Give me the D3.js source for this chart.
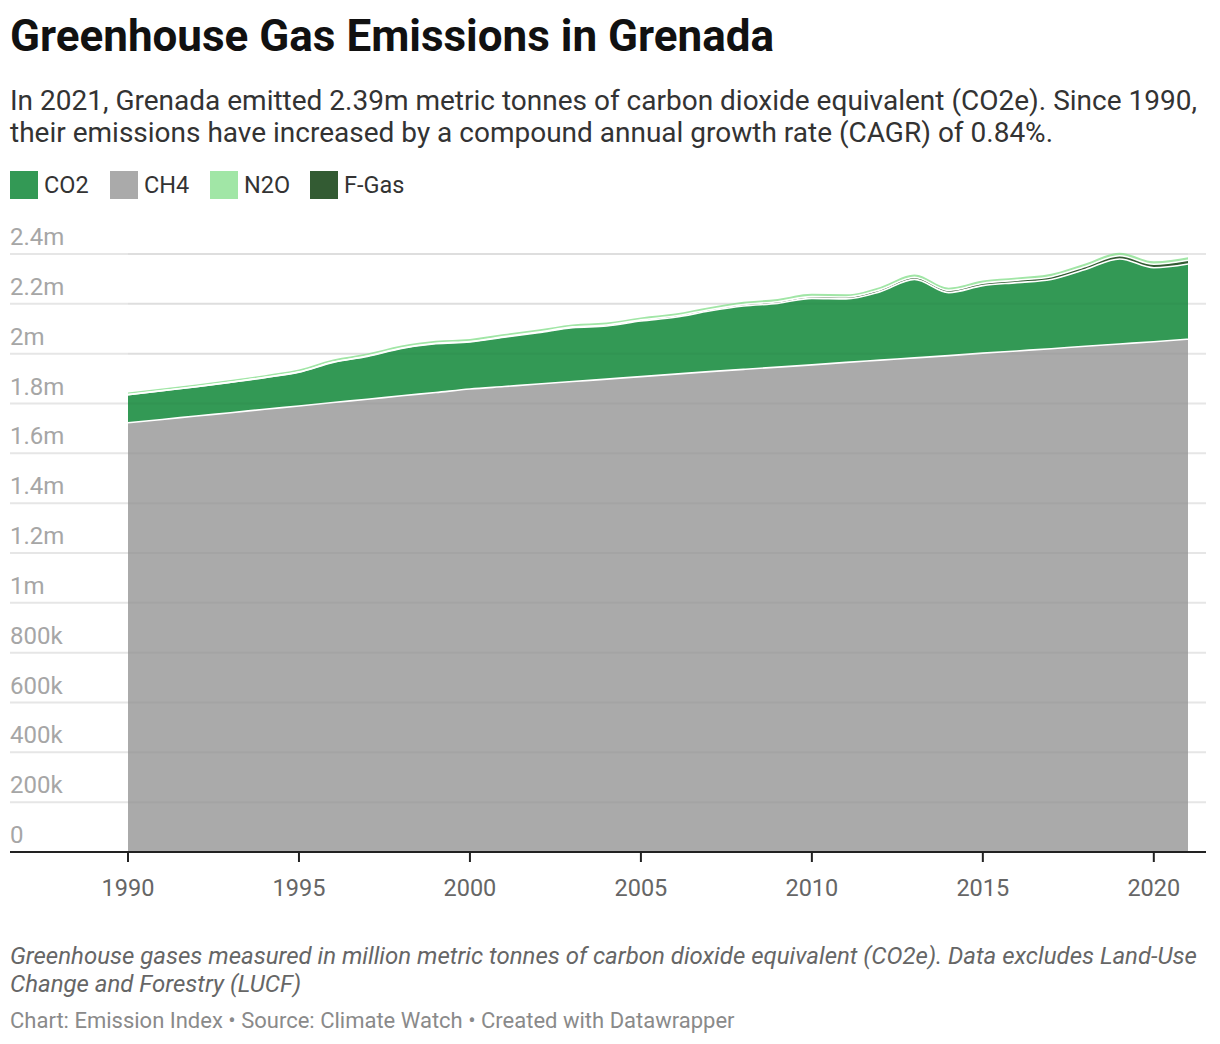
<!DOCTYPE html>
<html>
<head>
<meta charset="utf-8">
<script src="https://cdn.jsdelivr.net/npm/d3@7"></script>
<style>
  body { margin: 0; background: #fff; font-family: Roboto, "Noto Sans", sans-serif; }
  svg { display: block; }
</style>
</head>
<body>
<svg id="chart" width="1220" height="1044"></svg>
<script>
// years on the x axis
var years = d3.range(1990, 2022);

// emissions in million tonnes CO2e
var ch4 = [1.723, 1.736, 1.750, 1.763, 1.777, 1.790, 1.804, 1.817, 1.831, 1.844,
           1.858, 1.868, 1.878, 1.888, 1.898, 1.908, 1.918, 1.928, 1.937, 1.946,
           1.955, 1.965, 1.974, 1.983, 1.992, 2.002, 2.011, 2.020, 2.030, 2.039,
           2.048, 2.058];
var co2 = [0.112, 0.115, 0.117, 0.122, 0.127, 0.136, 0.161, 0.172, 0.190, 0.196,
           0.189, 0.198, 0.206, 0.216, 0.213, 0.223, 0.228, 0.243, 0.254, 0.256,
           0.267, 0.255, 0.275, 0.315, 0.253, 0.271, 0.274, 0.278, 0.308, 0.341,
           0.297, 0.302];
var fgas = [0.0005, 0.0005, 0.0006, 0.0007, 0.0008, 0.001, 0.0012, 0.0014, 0.0016, 0.0018,
            0.002, 0.0025, 0.003, 0.0035, 0.004, 0.0045, 0.005, 0.0055, 0.006, 0.0065,
            0.007, 0.0075, 0.008, 0.0085, 0.009, 0.0095, 0.010, 0.011, 0.012, 0.013,
            0.014, 0.015];
var n2o = [0.009, 0.009, 0.009, 0.009, 0.009, 0.009, 0.010, 0.010, 0.010, 0.010,
           0.010, 0.010, 0.010, 0.010, 0.010, 0.010, 0.010, 0.010, 0.011, 0.011,
           0.011, 0.011, 0.011, 0.011, 0.011, 0.011, 0.011, 0.012, 0.012, 0.012,
           0.012, 0.012];

var legendNames = ["CO2", "CH4", "N2O", "F-Gas"];
var stackOrder = ["CH4", "CO2", "F-Gas", "N2O"];   // bottom to top
var colors = { "CO2": "#339955", "CH4": "#aaaaaa", "N2O": "#a1e6a6", "F-Gas": "#335b33" };

var yTicks = [0, 0.2, 0.4, 0.6, 0.8, 1.0, 1.2, 1.4, 1.6, 1.8, 2.0, 2.2, 2.4];
var xTicks = [1990, 1995, 2000, 2005, 2010, 2015, 2020];

var table = years.map(function(yr, i) {
  return { year: yr, "CH4": ch4[i], "CO2": co2[i], "F-Gas": fgas[i], "N2O": n2o[i] };
});

var svg = d3.select("#chart");

// title and description
svg.append("text").attr("x", 10).attr("y", 51)
  .style("font-size", "44px").style("font-weight", 700).attr("fill", "#111")
  .text("Greenhouse Gas Emissions in Grenada");

var desc = [
  "In 2021, Grenada emitted 2.39m metric tonnes of carbon dioxide equivalent (CO2e). Since 1990,",
  "their emissions have increased by a compound annual growth rate (CAGR) of 0.84%."
];
svg.selectAll(".desc").data(desc).enter().append("text")
  .attr("x", 10).attr("y", function(d, i) { return 110 + i * 31.5; })
  .style("font-size", "28px").attr("fill", "#333")
  .text(function(d) { return d; });

// legend
var legend = svg.append("g");
legendNames.forEach(function(name, i) {
  var gx = 10 + i * 100;
  legend.append("rect").attr("x", gx).attr("y", 171).attr("width", 28).attr("height", 28)
    .attr("fill", colors[name]);
  legend.append("text").attr("x", gx + 34).attr("y", 193)
    .style("font-size", "23.5px").attr("fill", "#333").text(name);
});

// scales
var x = d3.scaleLinear().domain([1990, 2021]).range([128, 1188]);
var y = d3.scaleLinear().domain([0, 2.4]).range([852, 254]);
var left = 10, right = 1206;

// gridlines + y labels
var grid = svg.append("g");
grid.selectAll("line").data(yTicks.slice(1)).enter().append("line")
  .attr("x1", left).attr("x2", right)
  .attr("y1", function(d) { return y(d); }).attr("y2", function(d) { return y(d); })
  .attr("stroke", "#e6e6e6").attr("stroke-width", 2);

var fmt = function(d) {
  if (d === 0) return "0";
  if (d < 1) return Math.round(d * 1000) + "k";
  return (+d.toFixed(1)) + "m";
};
svg.append("g").selectAll("text").data(yTicks).enter().append("text")
  .attr("x", left).attr("y", function(d) { return y(d) - 9; })
  .style("font-size", "24px").attr("fill", "#a6a6a6")
  .text(fmt);

// stacked areas
var stack = d3.stack().keys(stackOrder);
var series = stack(table);

var area = d3.area()
  .curve(d3.curveMonotoneX)
  .x(function(d) { return x(d.data.year); })
  .y0(function(d) { return y(d[0]); })
  .y1(function(d) { return y(d[1]); });

var topLine = d3.line()
  .curve(d3.curveMonotoneX)
  .x(function(d) { return x(d.data.year); })
  .y(function(d) { return y(d[1]); });

var areas = svg.append("g");
areas.selectAll("path.area").data(series).enter().append("path")
  .attr("class", "area")
  .attr("d", area)
  .attr("fill", function(d) { return colors[d.key]; });

// gridlines faintly showing through the areas
svg.append("g").selectAll("line").data(yTicks.slice(1)).enter().append("line")
  .attr("x1", x(1990)).attr("x2", x(2021))
  .attr("y1", function(d) { return y(d); }).attr("y2", function(d) { return y(d); })
  .attr("stroke", "#000").attr("stroke-opacity", 0.03).attr("stroke-width", 2);

// white separators between layers
areas.selectAll("path.sep").data(series.slice(0, 3)).enter().append("path")
  .attr("class", "sep")
  .attr("d", topLine)
  .attr("fill", "none").attr("stroke", "#fff").attr("stroke-width", 1.6);

// x axis
var xAxis = svg.append("g");
xAxis.append("line").attr("x1", left).attr("x2", right).attr("y1", 852).attr("y2", 852)
  .attr("stroke", "#222").attr("stroke-width", 2);
xAxis.selectAll("line.tick").data(xTicks).enter().append("line")
  .attr("class", "tick")
  .attr("x1", function(d) { return x(d); }).attr("x2", function(d) { return x(d); })
  .attr("y1", 852).attr("y2", 862)
  .attr("stroke", "#222").attr("stroke-width", 2);
xAxis.selectAll("text").data(xTicks).enter().append("text")
  .attr("x", function(d) { return x(d); }).attr("y", 896)
  .attr("text-anchor", "middle")
  .style("font-size", "23.5px").attr("fill", "#666")
  .text(function(d) { return d; });

// notes
var notes = [
  "Greenhouse gases measured in million metric tonnes of carbon dioxide equivalent (CO2e). Data excludes Land-Use",
  "Change and Forestry (LUCF)"
];
svg.selectAll(".note").data(notes).enter().append("text")
  .attr("x", 10).attr("y", function(d, i) { return 963.5 + i * 28; })
  .style("font-size", "24px").style("font-style", "italic").attr("fill", "#666")
  .text(function(d) { return d; });

svg.append("text").attr("x", 10).attr("y", 1028)
  .style("font-size", "22px").attr("fill", "#8a8a8a")
  .text("Chart: Emission Index \u2022 Source: Climate Watch \u2022 Created with Datawrapper");
</script>
</body>
</html>
